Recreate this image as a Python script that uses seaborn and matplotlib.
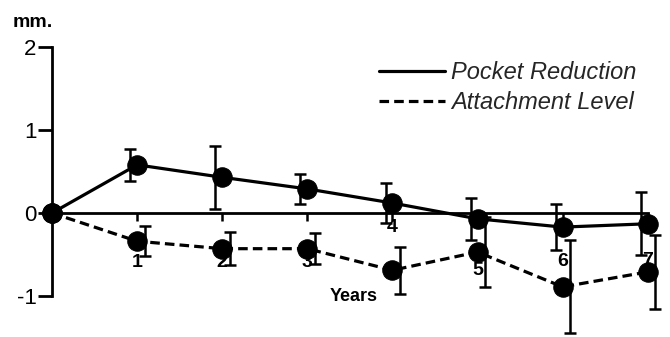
import matplotlib
matplotlib.use("Agg")
import matplotlib.pyplot as plt
from matplotlib.lines import Line2D
import numpy as np
import pandas as pd
import seaborn as sns

sns.set_theme(style="white")
plt.rcParams["font.family"] = ["Liberation Sans", "DejaVu Sans"]

# data
years = [0, 1, 2, 3, 4, 5, 6, 7]
pocket_reduction = [0.0, 0.58, 0.43, 0.29, 0.12, -0.07, -0.17, -0.13]
pocket_err = [0.0, 0.19, 0.38, 0.18, 0.24, 0.25, 0.28, 0.38]
attachment_level = [0.0, -0.34, -0.43, -0.43, -0.69, -0.47, -0.89, -0.71]
attachment_err = [0.0, 0.18, 0.20, 0.19, 0.28, 0.42, 0.56, 0.45]
series_names = ["Pocket Reduction", "Attachment Level"]
y_ticks = [2, 1, 0, -1]
x_tick_labels = ["1", "2", "3", "4", "5", "6", "7"]

# hand-placed year labels in the original (layout only)
x_label_y = [-0.60, -0.60, -0.60, -0.17, -0.69, -0.59, -0.57]

df = pd.DataFrame({
    "year": years * 2,
    "mm": pocket_reduction + attachment_level,
    "series": [series_names[0]] * len(years) + [series_names[1]] * len(years),
})

fig = plt.figure(figsize=(6.7, 3.37), dpi=100)
ax = fig.add_axes([0, 0, 1, 1])

sns.lineplot(
    data=df, x="year", y="mm", style="series",
    dashes={series_names[0]: "", series_names[1]: (3, 1.6)},
    markers={series_names[0]: "o", series_names[1]: "o"},
    color="black", linewidth=2.3, markersize=14,
    markeredgecolor="black", legend=False, ax=ax, zorder=3,
)

# error bars sit slightly beside the points in the original
yr = np.array(years[1:])
ax.errorbar(yr - 0.08, pocket_reduction[1:], yerr=pocket_err[1:], fmt="none",
            ecolor="black", elinewidth=1.8, capsize=4, capthick=1.8, zorder=4)
ax.errorbar(yr + 0.09, attachment_level[1:], yerr=attachment_err[1:], fmt="none",
            ecolor="black", elinewidth=1.8, capsize=4, capthick=1.8, zorder=4)

ax.set_xlim(-0.611, 7.262)
ax.set_ylim(-1.494, 2.566)

for s in ["top", "right"]:
    ax.spines[s].set_visible(False)
ax.spines["left"].set_position(("data", 0))
ax.spines["left"].set_bounds(-1, 2)
ax.spines["bottom"].set_position(("data", 0))
ax.spines["bottom"].set_bounds(0, 7)
for s in ["left", "bottom"]:
    ax.spines[s].set_color("black")
    ax.spines[s].set_linewidth(2.0)

ax.set_yticks(y_ticks)
ax.set_yticklabels([str(t) for t in y_ticks], fontsize=16)
ax.set_xticks(years[1:])
ax.set_xticklabels([])
ax.tick_params(axis="y", direction="out", length=10, width=2, pad=1,
               left=True, colors="black")
ax.tick_params(axis="x", direction="out", length=6, width=1.8,
               bottom=True, colors="black")
ax.set_xlabel("")
ax.set_ylabel("")

for x, lab, ly in zip(years[1:], x_tick_labels, x_label_y):
    ax.text(x, ly, lab, ha="center", va="center", fontsize=14,
            fontweight="bold", color="black")

ax.text(-0.23, 2.30, "mm.", ha="center", va="center", fontsize=14,
        fontweight="bold", color="black")
ax.text(3.55, -1.01, "Years", ha="center", va="center", fontsize=13,
        fontweight="bold", color="black")

handles = [
    Line2D([], [], color="black", linewidth=2.3),
    Line2D([], [], color="black", linewidth=2.3, dashes=(3, 1.6)),
]
ax.legend(handles, series_names, loc="upper right",
          bbox_to_anchor=(0.982, 0.881), frameon=False,
          handlelength=2.8, handletextpad=0.25, labelspacing=0.28,
          prop={"size": 17, "style": "italic"})

fig.savefig("out.png", dpi=100)
